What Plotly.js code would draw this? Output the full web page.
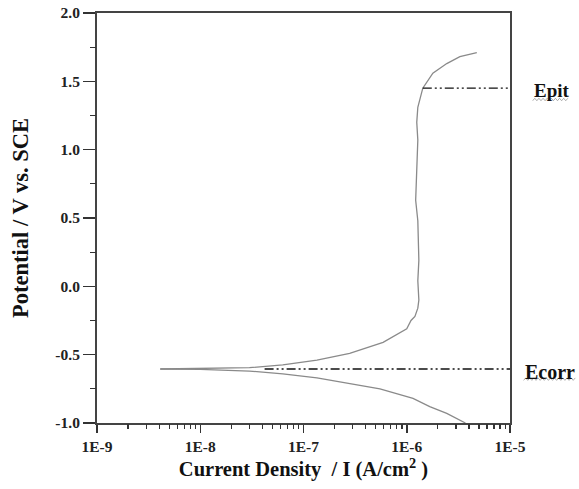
<!DOCTYPE html>
<html>
<head>
<meta charset="utf-8">
<script src="https://cdn.plot.ly/plotly-3.0.1.min.js"></script>
<style>html,body{margin:0;padding:0;background:#fff;}#chart{width:579px;height:489px;}</style>
</head>
<body>
<div id="chart"></div>
<script>
// Anodic branch (current density A/cm^2, potential V vs SCE)
const anodicI = [4.1e-9, 1e-8, 2e-8, 3e-8, 6.3e-8, 1.35e-7, 2.8e-7, 5.9e-7, 1.0e-6, 1.1e-6, 1.2e-6, 1.28e-6, 1.31e-6, 1.28e-6, 1.31e-6, 1.28e-6, 1.22e-6, 1.25e-6, 1.28e-6, 1.25e-6, 1.28e-6, 1.43e-6, 1.79e-6, 2.44e-6, 3.27e-6, 4.77e-6];
const anodicE = [-0.605, -0.603, -0.600, -0.595, -0.575, -0.54, -0.49, -0.41, -0.31, -0.25, -0.22, -0.16, -0.10, 0.04, 0.19, 0.48, 0.63, 0.92, 1.07, 1.20, 1.31, 1.45, 1.56, 1.63, 1.68, 1.71];
// Cathodic branch
const cathodicI = [4.1e-9, 1e-8, 3e-8, 6.3e-8, 1.35e-7, 2.8e-7, 5.5e-7, 1.15e-6, 1.67e-6, 2.44e-6, 3.49e-6, 3.7e-6];
const cathodicE = [-0.605, -0.607, -0.62, -0.64, -0.67, -0.71, -0.75, -0.82, -0.88, -0.93, -0.99, -1.0];
// Reference levels
const epitE = 1.45, epitStartI = 1.43e-6;
const ecorrE = -0.605, ecorrStartI = 4.2e-8;
const lineEndI = 1e-5;
const refLabels = ["Epit", "Ecorr"];
// Tick labels
const xTickVals = [1e-9, 1e-8, 1e-7, 1e-6, 1e-5];
const xTickText = ["1E-9", "1E-8", "1E-7", "1E-6", "1E-5"];
const yTickVals = [-1.0, -0.5, 0.0, 0.5, 1.0, 1.5, 2.0];
const yTickText = ["-1.0", "-0.5", "0.0", "0.5", "1.0", "1.5", "2.0"];

const xMinor = [];
for (let d = -9; d < -5; d++) for (let m = 2; m <= 9; m++) xMinor.push(m * Math.pow(10, d));
const yMinor = [];
for (let v = -0.75; v < 2; v += 0.5) yMinor.push(v);

const serif = "Liberation Serif";
const curveStyle = {color: "#8a8a8a", width: 1.3};
const refStyle = {color: "#111", width: 1.4, dash: "9px,3px,2px,3px,2px,3px"};

// wavy (spell-check style) underline path in paper coordinates
function wave(x0, x1, y, amp, step) {
  let p = "M" + x0 + "," + y;
  let up = true;
  for (let x = x0 + step; x <= x1 + 1e-9; x += step) {
    p += " L" + x.toFixed(4) + "," + (y + (up ? amp : 0)).toFixed(4);
    up = !up;
  }
  return p;
}
const bold = s => "<b>" + s + "</b>";

const data = [
  {x: anodicI, y: anodicE, mode: "lines", line: curveStyle, hoverinfo: "skip"},
  {x: cathodicI, y: cathodicE, mode: "lines", line: curveStyle, hoverinfo: "skip"},
  {x: [epitStartI, lineEndI], y: [epitE, epitE], mode: "lines", line: refStyle, hoverinfo: "skip"},
  {x: [ecorrStartI, lineEndI], y: [ecorrE, ecorrE], mode: "lines", line: refStyle, hoverinfo: "skip"},
  // carrier for the minor-tick overlay axes (no visible marks)
  {x: [1e-9], y: [-1], xaxis: "x2", yaxis: "y2", mode: "markers", marker: {opacity: 0}, hoverinfo: "skip"}
];

const commonAxis = {showgrid: false, zeroline: false};

const layout = {
  width: 579, height: 489,
  margin: {l: 97, r: 69, t: 13, b: 66},
  paper_bgcolor: "#fff", plot_bgcolor: "#fff",
  showlegend: false,
  font: {family: serif, color: "#111", size: 15},
  xaxis: Object.assign({
    type: "log", range: [-9, -5],
    tickmode: "array", tickvals: xTickVals, ticktext: xTickText.map(bold),
    ticks: "outside", ticklen: 8, tickwidth: 1.5, tickcolor: "#333",
    showline: true, linecolor: "#444", linewidth: 2, mirror: true,
    tickfont: {family: serif, size: 15.5, color: "#222"},
    title: {text: bold("Current Density  / I (A/cm<sup>2</sup> )"), font: {family: serif, size: 20.5, color: "#111"}, standoff: 1}
  }, commonAxis),
  yaxis: Object.assign({
    range: [-1, 2],
    tickmode: "array", tickvals: yTickVals, ticktext: yTickText.map(bold),
    ticks: "outside", ticklen: 12, tickwidth: 1.5, tickcolor: "#333",
    showline: true, linecolor: "#444", linewidth: 2, mirror: true,
    tickfont: {family: serif, size: 15.5, color: "#222"},
    title: {text: bold("Potential / V vs. SCE"), font: {family: serif, size: 22.5, color: "#111"}, standoff: 20}
  }, commonAxis),
  xaxis2: Object.assign({
    type: "log", range: [-9, -5], overlaying: "x", anchor: "y2", side: "bottom",
    tickmode: "array", tickvals: xMinor, showticklabels: false,
    ticks: "outside", ticklen: 5, tickwidth: 1.2, tickcolor: "#333", showline: false
  }, commonAxis),
  yaxis2: Object.assign({
    range: [-1, 2], overlaying: "y", anchor: "x2", side: "left",
    tickmode: "array", tickvals: yMinor, showticklabels: false,
    ticks: "outside", ticklen: 6, tickwidth: 1.2, tickcolor: "#333", showline: false
  }, commonAxis),
  annotations: [
    {text: bold(refLabels[0]), xref: "paper", yref: "y", x: 1.053, y: 1.435, xanchor: "left", yanchor: "middle", showarrow: false,
     font: {family: serif, size: 19, color: "#111"}},
    {text: bold(refLabels[1]), xref: "paper", yref: "y", x: 1.031, y: -0.63, xanchor: "left", yanchor: "middle", showarrow: false,
     font: {family: serif, size: 20, color: "#111"}}
  ],
  shapes: [
    {type: "path", xref: "paper", yref: "paper", path: wave(1.055, 1.14, 0.786, 0.006, 0.005), line: {color: "#9a9a9a", width: 0.8}},
    {type: "path", xref: "paper", yref: "paper", path: wave(1.033, 1.16, 0.104, 0.006, 0.005), line: {color: "#9a9a9a", width: 0.8}}
  ]
};

Plotly.newPlot("chart", data, layout, {displayModeBar: false, staticPlot: true});
</script>
</body>
</html>
